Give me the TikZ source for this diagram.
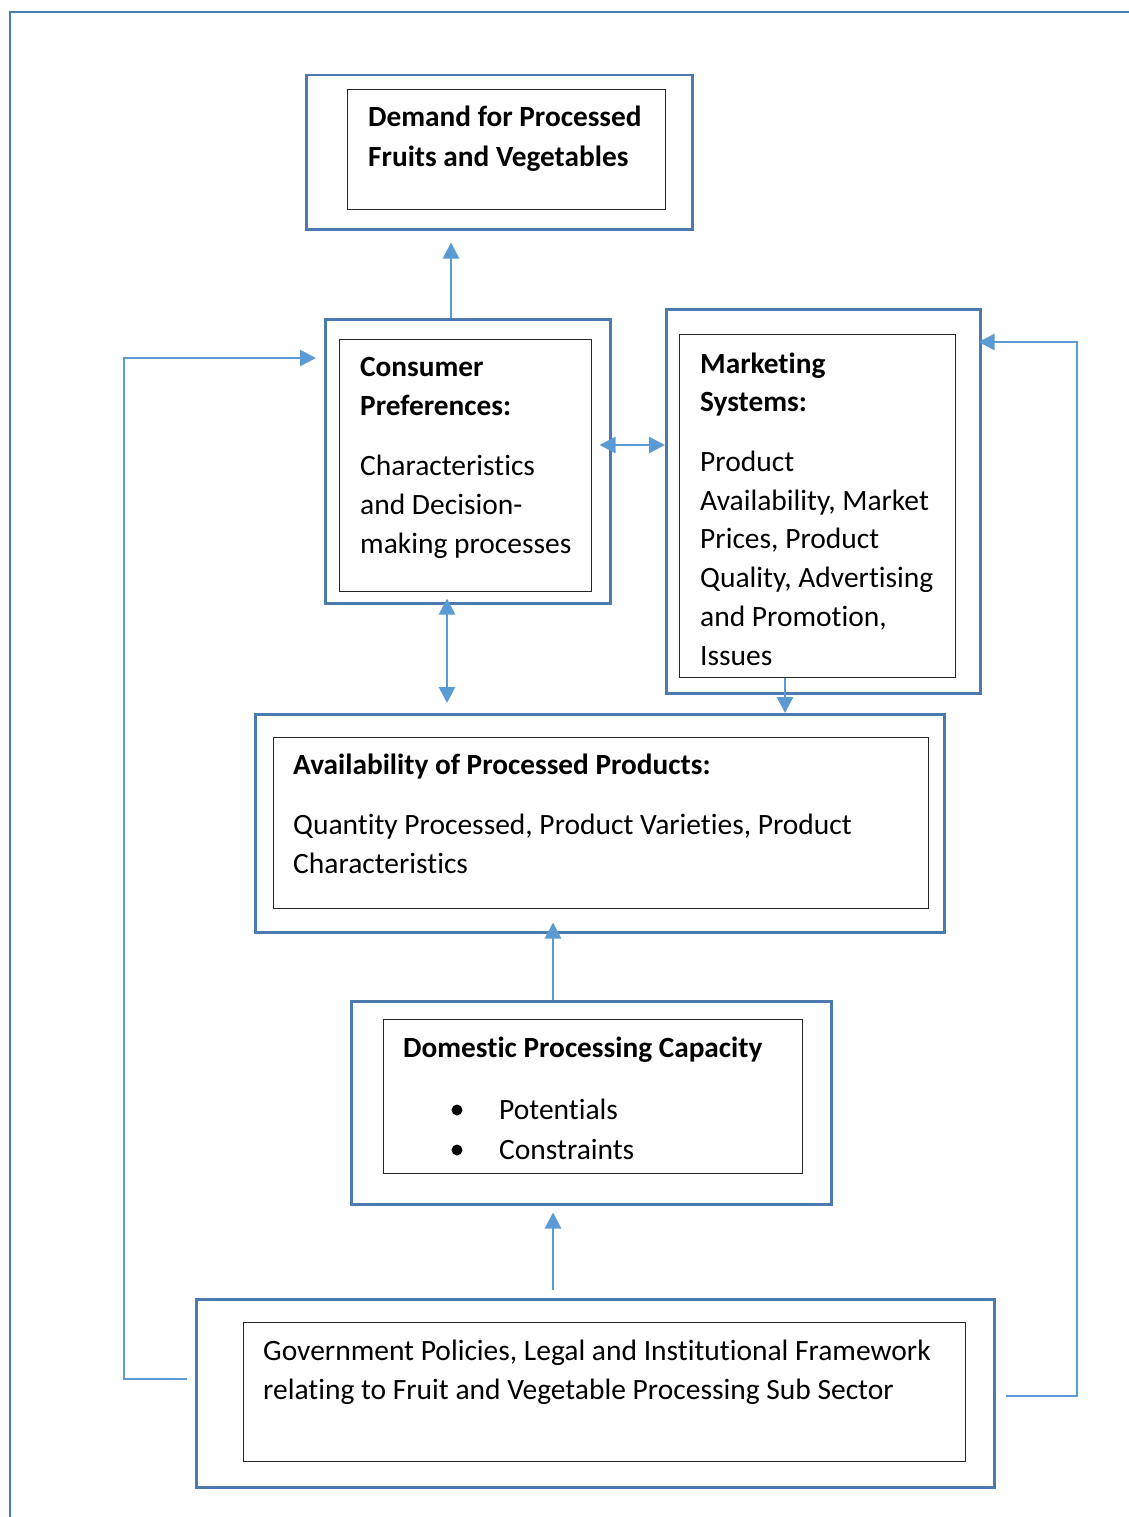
\documentclass[tikz,border=0pt]{standalone}
\usepackage{fontspec}
\setmainfont[Ligatures=NoCommon]{Carlito}
\usetikzlibrary{arrows.meta}
\definecolor{frameblue}{HTML}{4A7AAE}
\definecolor{arrowblue}{HTML}{5B9BD5}
\begin{document}
\begin{tikzpicture}[x=1pt,y=-1pt,
  outerbox/.style={draw=frameblue, line width=2.5pt, inner sep=0pt, anchor=north west},
  innerbox/.style={draw=black!85, line width=1.3pt, inner sep=0pt, anchor=north west},
  conn/.style={draw=arrowblue, line width=2.8pt, -{Triangle[length=16pt,width=16pt]}},
  dconn/.style={draw=arrowblue, line width=2.8pt, {Triangle[length=16pt,width=16pt]}-{Triangle[length=16pt,width=16pt]}},
  txt/.style={anchor=base west, inner sep=0pt, font=\fontsize{29.5}{39}\selectfont},
  btxt/.style={anchor=base west, inner sep=0pt, font=\fontsize{29.3}{39}\selectfont\bfseries}]
\useasboundingbox (0,0) rectangle (1129,1517);
% page frame
\draw[frameblue, line width=2.5pt] (1140,12) -- (10,12) -- (10,1530);

% Demand
\node[outerbox, minimum width=386pt, minimum height=154pt] (demO) at (305,74) {};
\node[innerbox, minimum width=318pt, minimum height=120pt] (demI) at (347,89) {};
\node[btxt] (d1) at (368,127) {Demand for Processed};
\node[btxt] (d2) at (368,167) {Fruits and Vegetables};

% Consumer
\node[outerbox, minimum width=285pt, minimum height=284pt] (conO) at (324,318) {};
\node[innerbox, minimum width=252pt, minimum height=252pt] (conI) at (339,339) {};
\node[btxt] (c1) at (360,376) {Consumer};
\node[btxt] (c2) at (360,415) {Preferences:};
\node[txt] (c3) at (360,475) {Characteristics};
\node[txt] (c4) at (360,514) {and Decision-};
\node[txt] (c5) at (360,553) {making processes};

% Marketing
\node[outerbox, minimum width=314pt, minimum height=384pt] (marO) at (665,308) {};
\node[innerbox, minimum width=276pt, minimum height=343pt] (marI) at (679,334) {};
\node[btxt] (m1) at (700,373) {Marketing};
\node[btxt] (m2) at (700,411) {Systems:};
\node[txt] (m3) at (700,471) {Product};
\node[txt] (m4) at (700,510) {Availability, Market};
\node[txt] (m5) at (700,548) {Prices, Product};
\node[txt] (m6) at (700,587) {Quality, Advertising};
\node[txt] (m7) at (700,626) {and Promotion,};
\node[txt] (m8) at (700,665) {Issues};

% Availability
\node[outerbox, minimum width=689pt, minimum height=218pt] (avO) at (254,713) {};
\node[innerbox, minimum width=655pt, minimum height=171pt] (avI) at (273,737) {};
\node[btxt] (a1) at (293,774) {Availability of Processed Products:};
\node[txt] (a2) at (293,834) {Quantity Processed, Product Varieties, Product};
\node[txt] (a3) at (293,873) {Characteristics};

% Domestic
\node[outerbox, minimum width=480pt, minimum height=203pt] (domO) at (350,1000) {};
\node[innerbox, minimum width=419pt, minimum height=154pt] (domI) at (383,1019) {};
\node[btxt] (p1) at (403,1057) {Domestic Processing Capacity};
\node[fill=black, circle, inner sep=0pt, minimum size=11pt] (b1) at (457,1110) {};
\node[fill=black, circle, inner sep=0pt, minimum size=11pt] (b2) at (457,1150) {};
\node[txt] (p2) at (499,1119) {Potentials};
\node[txt] (p3) at (499,1159) {Constraints};

% Government
\node[outerbox, minimum width=798pt, minimum height=188pt] (govO) at (195,1298) {};
\node[innerbox, minimum width=722pt, minimum height=139pt] (govI) at (243,1322) {};
\node[txt] (g1) at (263,1360) {Government Policies, Legal and Institutional Framework};
\node[txt] (g2) at (263,1399) {relating to Fruit and Vegetable Processing Sub Sector};

% rails
\coordinate (lrail) at (124,0);
\coordinate (rrail) at (1077,0);

% connectors
\draw[conn, shorten >=12pt] (conO.north -| 451,0) -- (demO.south -| 451,0);
\draw[dconn, shorten <=-12pt] (conO.east |- 0,445) -- (marO.west |- 0,445);
\draw[dconn, shorten <=-6pt, shorten >=10pt] (conO.south -| 447,0) -- (avO.north -| 447,0);
\draw[conn] (marI.south -| 785,0) -- (avO.north -| 785,0);
\draw[conn, shorten >=-11pt] (domO.north -| 553,0) -- (avO.south -| 553,0);
\draw[conn, shorten <=8pt, shorten >=7pt] (govO.north -| 553,0) -- (domO.south -| 553,0);
\draw[conn, shorten <=8pt, shorten >=8pt] (govO.west |- 0,1379) -- (lrail |- 0,1379) -- (lrail |- 0,358) -- (conO.west |- 0,358);
\draw[conn, shorten <=10pt, shorten >=-3pt] (govO.east |- 0,1396) -- (rrail |- 0,1396) -- (rrail |- 0,342) -- (marO.east |- 0,342);
\end{tikzpicture}
\end{document}
